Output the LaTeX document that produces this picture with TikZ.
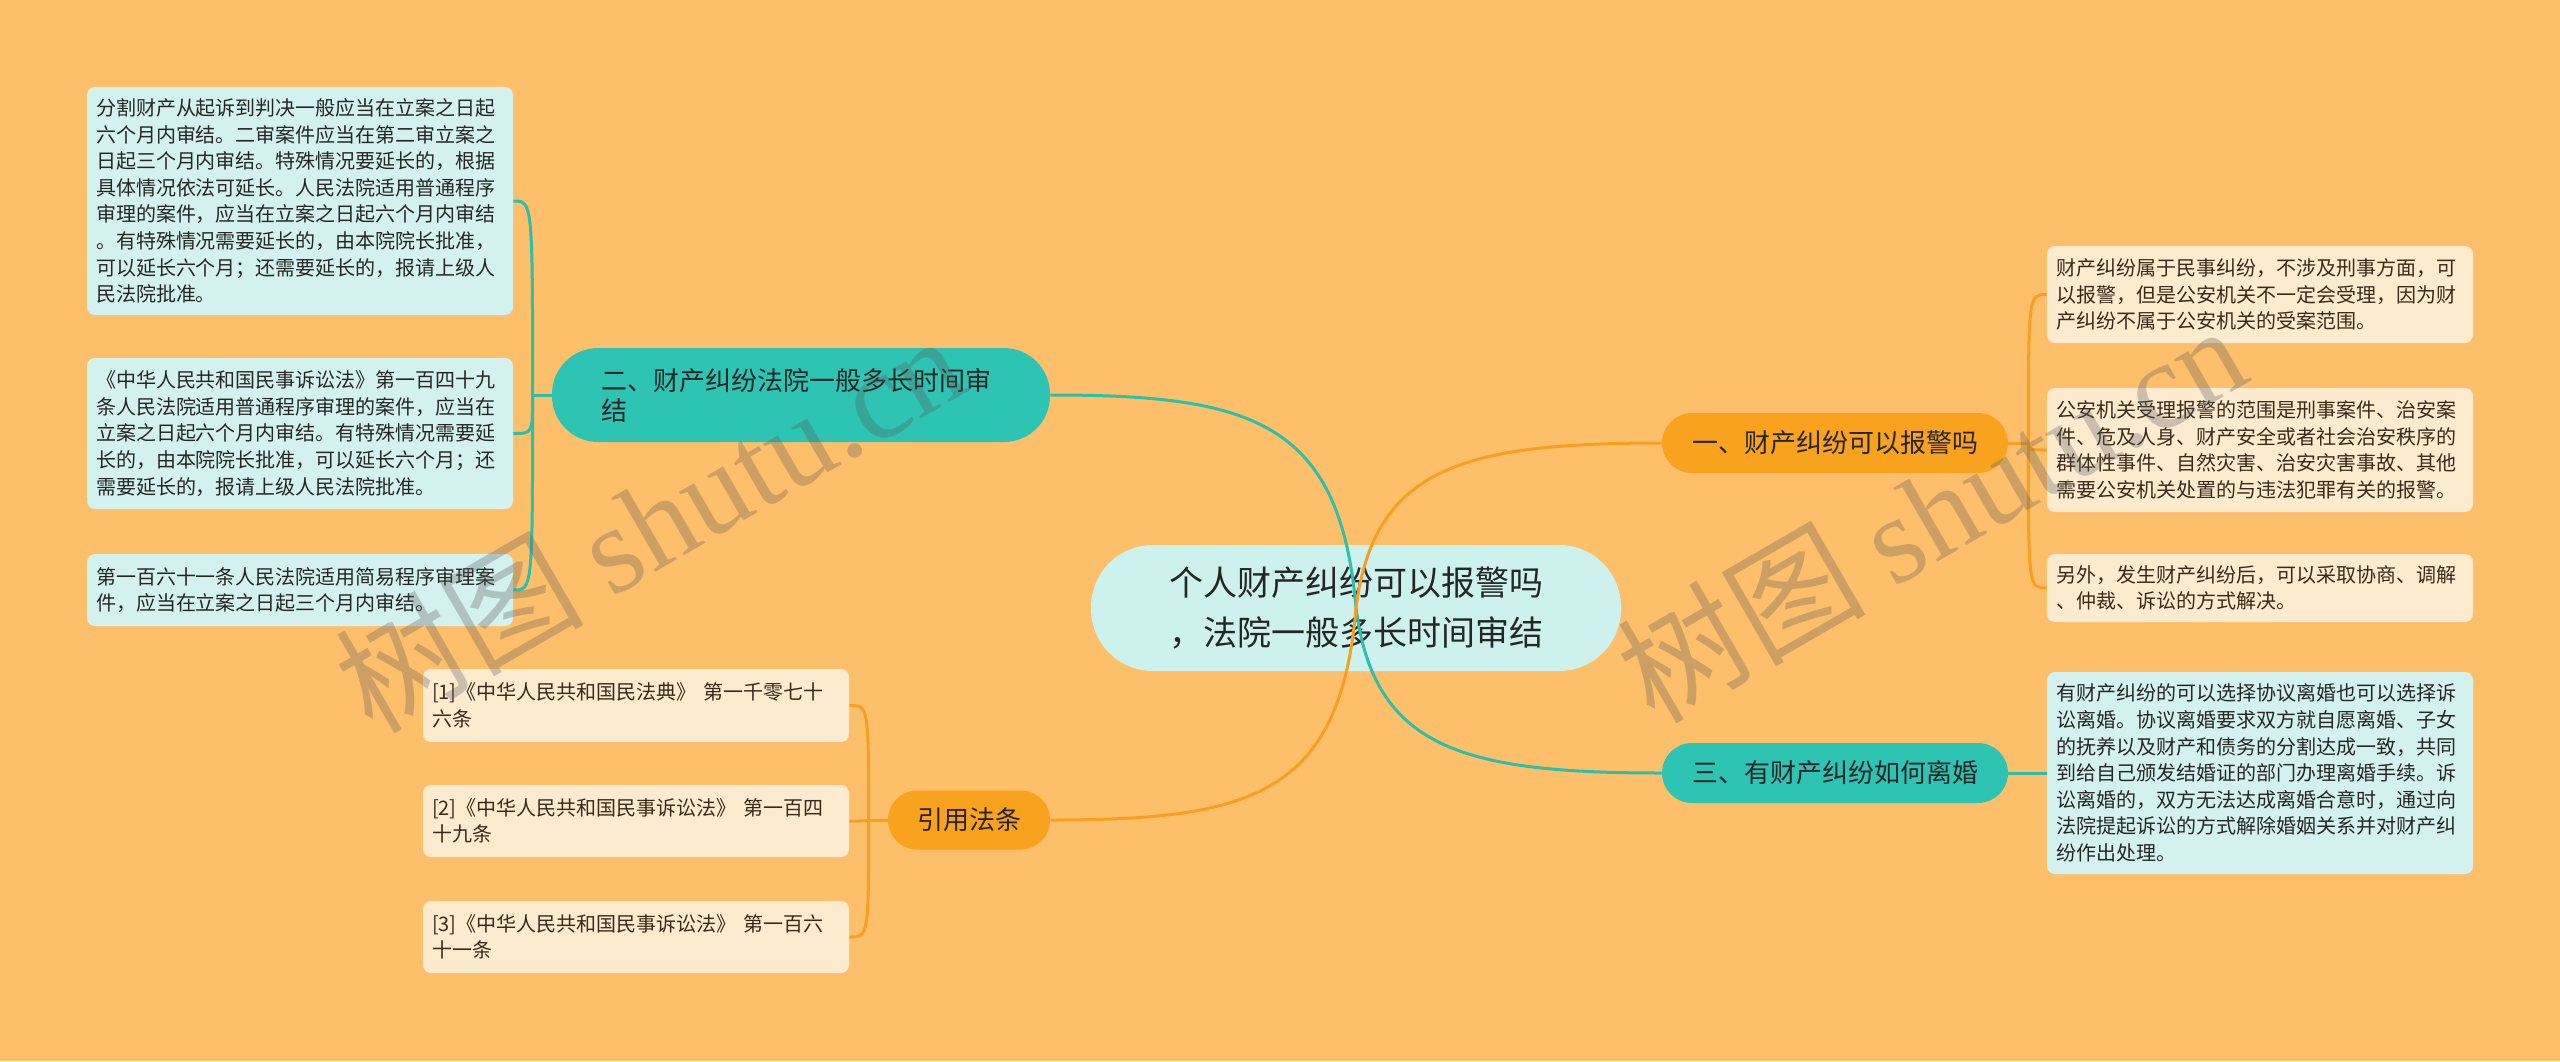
\documentclass[tikz,border=0pt]{standalone}
\usepackage{fontspec}
\setmainfont{Noto Sans CJK SC}
\newfontfamily\wmlat{Liberation Serif}
\usetikzlibrary{calc}
\definecolor{bgc}{HTML}{FEBF6B}
\definecolor{tealc}{HTML}{2EC4B4}
\definecolor{orgc}{HTML}{F9A21D}
\definecolor{ctrc}{HTML}{CDF2EE}
\definecolor{cyanleaf}{HTML}{D3F2EF}
\definecolor{creamleaf}{HTML}{FDEBD0}
\definecolor{teall}{HTML}{2DBFAA}
\definecolor{orgl}{HTML}{F5A020}
\definecolor{txt}{HTML}{262626}
\definecolor{brtxt}{HTML}{3A2A18}
\begin{document}
\begin{tikzpicture}[x=0.5pt,y=-0.5pt,
 leaf/.style={rounded corners=4pt, minimum width=213pt, text width=204pt, inner xsep=4.5pt, inner ysep=2pt, align=left, font=\fontsize{10}{13.3}\selectfont},
 cyanbox/.style={leaf, fill=cyanleaf, text=txt},
 creambox/.style={leaf, fill=creamleaf, text=brtxt},
 branch/.style={font=\fontsize{13}{15}\selectfont, text=txt, inner sep=0pt},
 tl/.style={draw=teall, line width=1.5pt},
 ol/.style={draw=orgl, line width=1.5pt},
 wm/.style={text=black!65, text opacity=0.3, rotate=30, inner sep=0pt, font=\fontsize{62}{62}\selectfont}
]
\fill[bgc] (0,0) rectangle (2560,1061);
\useasboundingbox (0,0) rectangle (2560,1061);

% center
\node[fill=ctrc, rounded corners=31pt, minimum width=265pt, minimum height=63pt, align=center, text=txt, font=\fontsize{17}{25}\selectfont, inner sep=0pt] (c) at (1356,608) {个人财产纠纷可以报警吗\\，法院一般多长时间审结};

% branches
\node[branch, fill=tealc, rounded corners=23pt, minimum width=249pt, minimum height=47pt, text width=200pt, align=left] (b2) at (801,395) {二、财产纠纷法院一般多长时间审\\结};
\node[branch, fill=orgc, rounded corners=15pt, minimum width=173pt, minimum height=30pt] (b1) at (1835,443) {一、财产纠纷可以报警吗};
\node[branch, fill=tealc, rounded corners=15pt, minimum width=173pt, minimum height=30pt] (b3) at (1835,773) {三、有财产纠纷如何离婚};
\node[branch, fill=orgc, rounded corners=14.5pt, minimum width=81pt, minimum height=29.5pt] (cite) at (969,820) {引用法条};

% left leaves
\node[cyanbox, minimum height=114pt] (L1) at (300,201) {分割财产从起诉到判决一般应当在立案之日起\\六个月内审结。二审案件应当在第二审立案之\\日起三个月内审结。特殊情况要延长的，根据\\具体情况依法可延长。人民法院适用普通程序\\审理的案件，应当在立案之日起六个月内审结\\。有特殊情况需要延长的，由本院院长批准，\\可以延长六个月；还需要延长的，报请上级人\\民法院批准。};
\node[cyanbox, minimum height=75.5pt] (L2) at (300,433.5) {《中华人民共和国民事诉讼法》第一百四十九\\条人民法院适用普通程序审理的案件，应当在\\立案之日起六个月内审结。有特殊情况需要延\\长的，由本院院长批准，可以延长六个月；还\\需要延长的，报请上级人民法院批准。};
\node[cyanbox, minimum height=36pt] (L3) at (300,590) {第一百六十一条人民法院适用简易程序审理案\\件，应当在立案之日起三个月内审结。};

% citations
\node[creambox, minimum height=36.5pt] (C1) at (636,705.5) {[1]《中华人民共和国民法典》~第一千零七十\\六条};
\node[creambox, minimum height=36pt] (C2) at (636,821) {[2]《中华人民共和国民事诉讼法》~第一百四\\十九条};
\node[creambox, minimum height=36pt] (C3) at (636,937) {[3]《中华人民共和国民事诉讼法》~第一百六\\十一条};

% right leaves
\node[creambox, minimum height=48.5pt] (R1) at (2260,294.5) {财产纠纷属于民事纠纷，不涉及刑事方面，可\\以报警，但是公安机关不一定会受理，因为财\\产纠纷不属于公安机关的受案范围。};
\node[creambox, minimum height=62pt] (R2) at (2260,450) {公安机关受理报警的范围是刑事案件、治安案\\件、危及人身、财产安全或者社会治安秩序的\\群体性事件、自然灾害、治安灾害事故、其他\\需要公安机关处置的与违法犯罪有关的报警。};
\node[creambox, minimum height=34pt] (R3) at (2260,588) {另外，发生财产纠纷后，可以采取协商、调解\\、仲裁、诉讼的方式解决。};
\node[cyanbox, minimum height=101pt] (R4) at (2260,773) {有财产纠纷的可以选择协议离婚也可以选择诉\\讼离婚。协议离婚要求双方就自愿离婚、子女\\的抚养以及财产和债务的分割达成一致，共同\\到给自己颁发结婚证的部门办理离婚手续。诉\\讼离婚的，双方无法达成离婚合意时，通过向\\法院提起诉讼的方式解除婚姻关系并对财产纠\\纷作出处理。};

% main connectors
\draw[tl] (c.center) .. controls ($(c.center)+(-16,-188)$) and ($(b2.east)+(200,0)$) .. (b2.east);
\draw[tl] (c.center) .. controls ($(c.center)+(18,140)$) and ($(b3.west)+(-200,0)$) .. (b3.west);
\draw[ol] (c.center) .. controls ($(c.center)+(18,-140)$) and ($(b1.west)+(-200,0)$) .. (b1.west);
\draw[ol] (c.center) .. controls ($(c.center)+(-16,188)$) and ($(cite.east)+(200,0)$) .. (cite.east);

% left bracket
\draw[tl] (b2.west) -- ++(-19,0) coordinate (lj);
\foreach \n in {L1,L2,L3}{
  \draw[tl] (lj) .. controls (lj |- \n.east) and (lj |- \n.east) .. (\n.east);
}
% right bracket
\draw[ol] (b1.east) -- ++(20,0) coordinate (rj);
\foreach \n in {R1,R2,R3}{
  \draw[ol] (rj) .. controls (rj |- \n.west) and (rj |- \n.west) .. (\n.west);
}
\draw[tl] (b3.east) -- (R4.west);
% citation bracket
\draw[ol] (cite.west) -- ++(-19,0) coordinate (cj);
\foreach \n in {C1,C2,C3}{
  \draw[ol] (cj) .. controls (cj |- \n.east) and (cj |- \n.east) .. (\n.east);
}

% watermarks
\node[wm] (wm1) at (649,522) {树图 {\wmlat shutu.cn}};
\node[wm] (wm2) at (1931,512) {树图 {\wmlat shutu.cn}};
\end{tikzpicture}
\end{document}
